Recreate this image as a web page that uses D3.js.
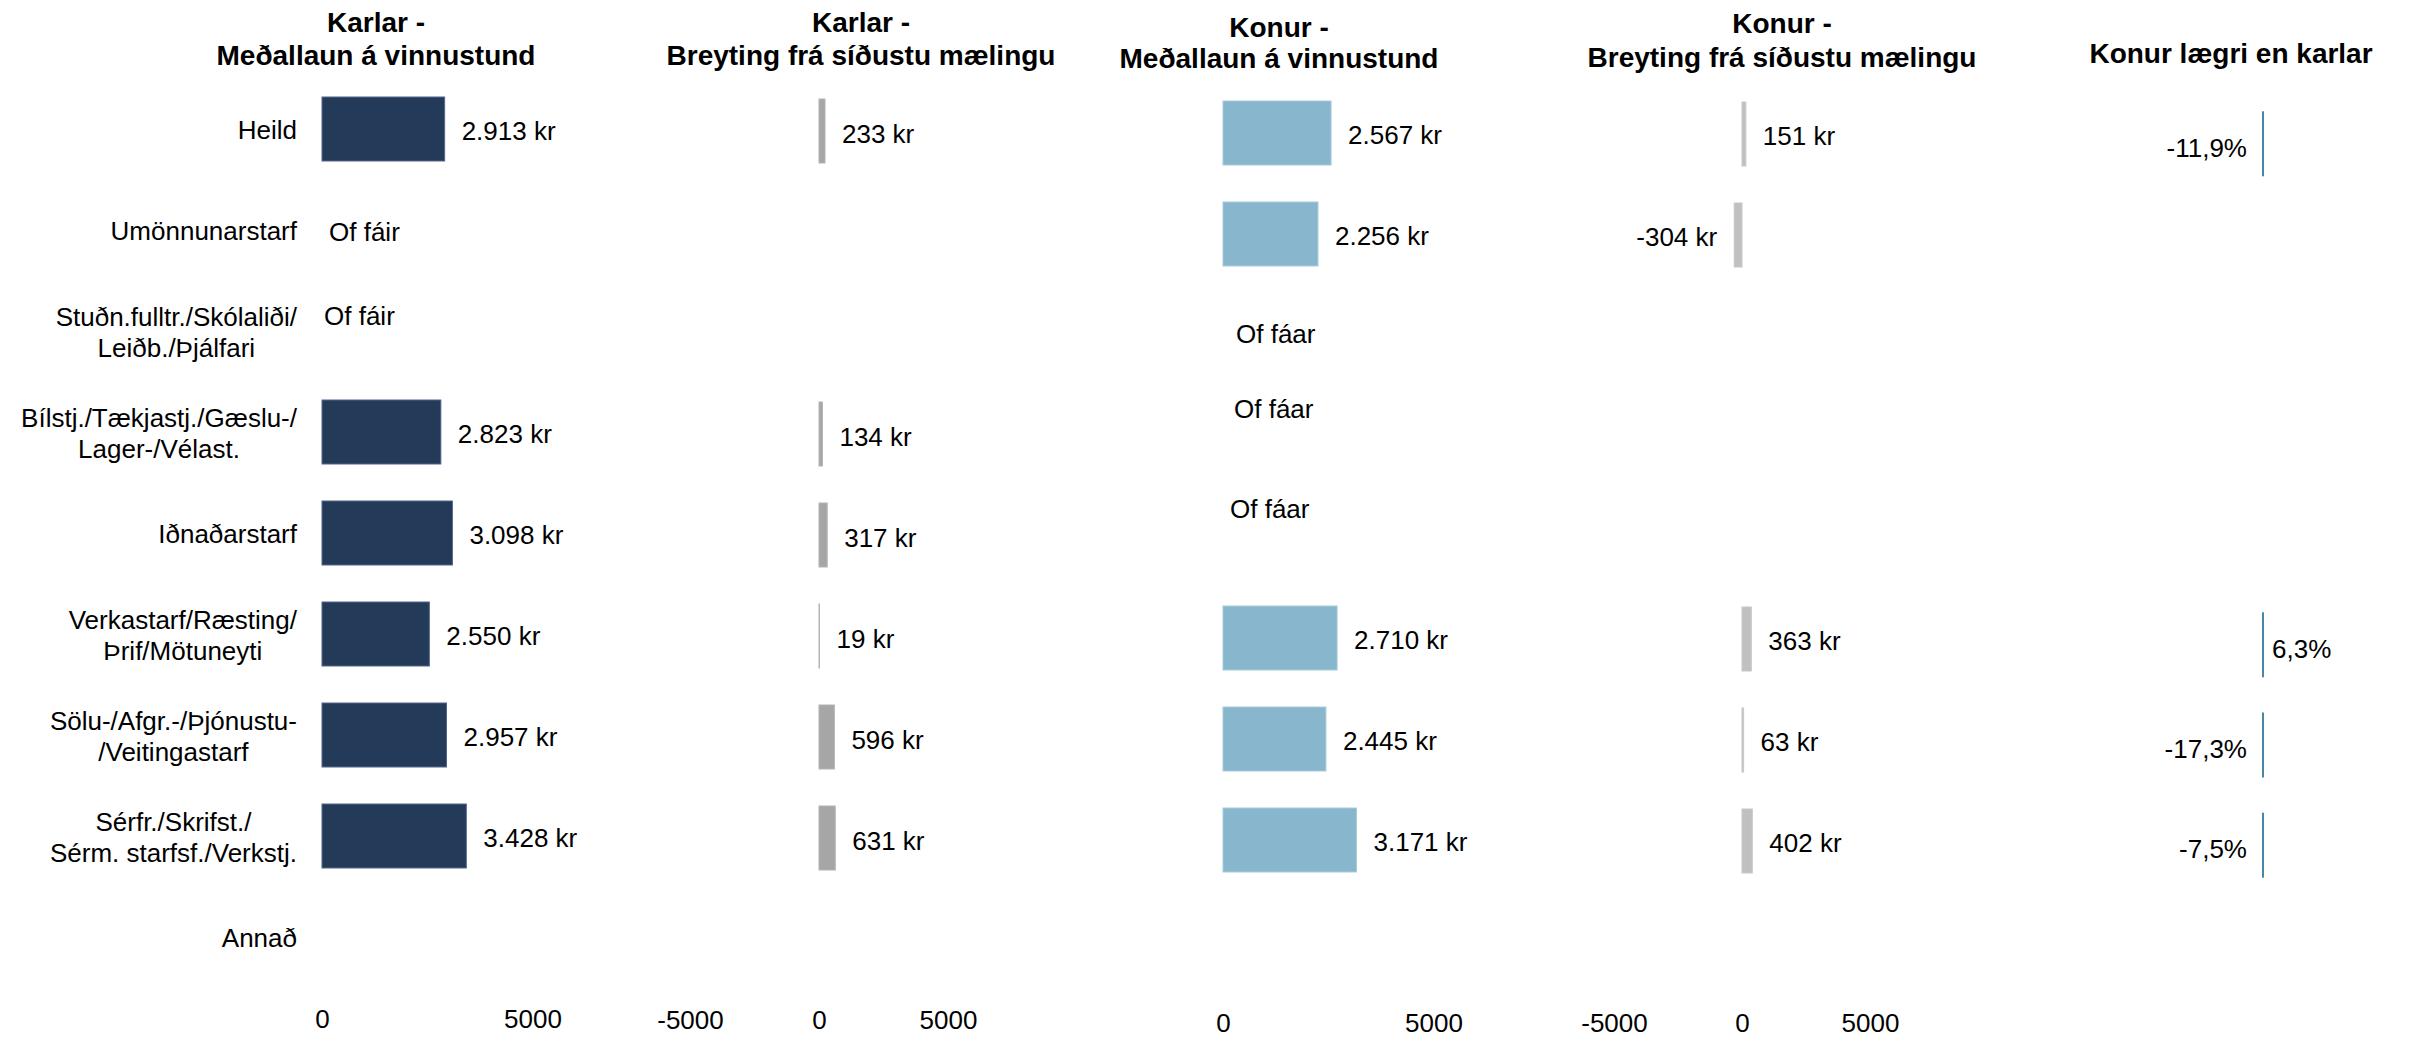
<!DOCTYPE html>
<html><head><meta charset="utf-8">
<script src="https://cdn.jsdelivr.net/npm/d3@7"></script>
<style>
body{margin:0;background:#fff}
text{font-family:"Liberation Sans",Arial,sans-serif;fill:#000}
</style>
</head><body>
<svg id="chart" width="2410" height="1038"></svg>
<script>
// ---------------- DATA ----------------
const categories = ["Heild","Umönnunarstarf","Stuðn.fulltr./Skólaliði/Leiðb./Þjálfari","Bílstj./Tækjastj./Gæslu-/Lager-/Vélast.","Iðnaðarstarf","Verkastarf/Ræsting/Þrif/Mötuneyti","Sölu-/Afgr.-/Þjónustu-/Veitingastarf","Sérfr./Skrifst./Sérm. starfsf./Verkstj.","Annað"];
const categoryLines = [["Heild"],["Umönnunarstarf"],["Stuðn.fulltr./Skólaliði/","Leiðb./Þjálfari"],["Bílstj./Tækjastj./Gæslu-/","Lager-/Vélast."],["Iðnaðarstarf"],["Verkastarf/Ræsting/","Þrif/Mötuneyti"],["Sölu-/Afgr.-/Þjónustu-","/Veitingastarf"],["Sérfr./Skrifst./","Sérm. starfsf./Verkstj."],["Annað"]];
const karlarLaun     = [2913, null, null, 2823, 3098, 2550, 2957, 3428, null];
const karlarBreyting = [233, null, null, 134, 317, 19, 596, 631, null];
const konurLaun      = [2567, 2256, null, null, null, 2710, 2445, 3171, null];
const konurBreyting  = [151, -304, null, null, null, 363, 63, 402, null];
const konurLaegri    = [-0.119, null, null, null, null, 0.063, -0.173, -0.075, null];
const titles = [["Karlar -","Meðallaun á vinnustund"],["Karlar -","Breyting frá síðustu mælingu"],["Konur -","Meðallaun á vinnustund"],["Konur -","Breyting frá síðustu mælingu"],["Konur lægri en karlar"]];
const ticksLaun = [0, 5000];
const ticksBreyting = [-5000, 0, 5000];
const karlarNotes = [{cat:"Umönnunarstarf", text:"Of fáir"},{cat:"Stuðn.fulltr./Skólaliði/Leiðb./Þjálfari", text:"Of fáir"}];
const konurNotes  = [{cat:"Stuðn.fulltr./Skólaliði/Leiðb./Þjálfari", text:"Of fáar"},{cat:"Bílstj./Tækjastj./Gæslu-/Lager-/Vélast.", text:"Of fáar"},{cat:"Iðnaðarstarf", text:"Of fáar"}];

// ---------------- FORMAT ----------------
const loc = d3.formatLocale({decimal:",", thousands:".", grouping:[3], currency:["",""], minus:"-"});
const fmtKr = v => loc.format(",.0f")(v) + " kr";
const fmtPct = v => loc.format(".1%")(v);
const fmtTick = loc.format("d");

// ---------------- LAYOUT ----------------
const svg = d3.select("#chart");
const FS = 26;

const panels = [
  {values:karlarLaun, domain:[0,5000], range:[322,532.5], bandStart:78.5, step:101, bh:64, fill:"#243A59", stroke:"#52668A", sw:1, fmt:fmtKr, gapPos:17, gapNeg:17, ticks:ticksLaun, axisY:1010, title:titles[0], titleX:376, titleY:[32,65], labelDy:2},
  {values:karlarBreyting, domain:[-5000,5000], range:[690,948], bandStart:80.5, step:101, bh:64, fill:"#A6A6A6", stroke:"#B4B4B4", sw:1, fmt:fmtKr, gapPos:17, gapNeg:17, ticks:ticksBreyting, axisY:1011, title:titles[1], titleX:861, titleY:[32,65], labelDy:3},
  {values:konurLaun, domain:[0,5000], range:[1223,1433.5], bandStart:82.5, step:101, bh:64, fill:"#88B6CC", stroke:"#A8CCDD", sw:1, fmt:fmtKr, gapPos:17, gapNeg:17, ticks:ticksLaun, axisY:1014, title:titles[2], titleX:1279, titleY:[37,68], labelDy:2},
  {values:konurBreyting, domain:[-5000,5000], range:[1614,1870], bandStart:83.5, step:101, bh:64, fill:"#C0C0C0", stroke:"#C8C8C8", sw:1, fmt:fmtKr, gapPos:17, gapNeg:17, ticks:ticksBreyting, axisY:1014, title:titles[3], titleX:1782, titleY:[33,67], labelDy:2},
  {values:konurLaegri, domain:[-5000,5000], range:[2135,2391], bandStart:93.7, step:100.2, bh:63, fill:"#4A86A6", stroke:"#4A86A6", sw:2, fmt:fmtPct, gapPos:9, gapNeg:16, ticks:null, axisY:0, title:titles[4], titleX:2231, titleY:[63], labelDy:4}
];

panels.forEach(p => {
  p.x = d3.scaleLinear().domain(p.domain).range(p.range);
  p.y = d3.scaleBand().domain(categories)
          .range([p.bandStart, p.bandStart + p.step*categories.length])
          .paddingInner(1 - p.bh/p.step).paddingOuter((1 - p.bh/p.step)/2);
  const g = svg.append("g");

  // title
  p.title.forEach((t,i) => {
    g.append("text").attr("x", p.titleX).attr("y", p.titleY[i])
      .attr("text-anchor","middle").attr("font-size",28).attr("font-weight","bold").text(t);
  });

  const rows = categories.map((c,i)=>({cat:c, v:p.values[i]})).filter(d => d.v !== null);

  // bars
  g.selectAll("rect.bar").data(rows).join("rect").attr("class","bar")
    .attr("x", d => Math.min(p.x(0), p.x(d.v)))
    .attr("width", d => Math.abs(p.x(d.v) - p.x(0)))
    .attr("y", d => p.y(d.cat))
    .attr("height", p.y.bandwidth())
    .attr("fill", p.fill).attr("stroke", p.stroke).attr("stroke-width", p.sw);

  // value labels
  g.selectAll("text.val").data(rows).join("text").attr("class","val")
    .attr("x", d => d.v >= 0 ? p.x(d.v) + p.gapPos : p.x(d.v) - p.gapNeg)
    .attr("y", d => p.y(d.cat) + p.y.bandwidth()/2 + p.labelDy)
    .attr("dy","0.35em")
    .attr("text-anchor", d => d.v >= 0 ? "start" : "end")
    .attr("font-size", FS)
    .text(d => p.fmt(d.v));

  // axis
  if (p.ticks) {
    const ax = g.append("g").attr("transform", `translate(0,${p.axisY})`)
      .call(d3.axisBottom(p.x).tickValues(p.ticks).tickSize(0).tickPadding(0).tickFormat(fmtTick));
    ax.select(".domain").remove();
    ax.selectAll("text").attr("font-size", FS).attr("font-family", '"Liberation Sans",Arial,sans-serif').attr("fill","#000");
  }
});

// category labels (use first panel's band scale)
const yCat = panels[0].y;
const catG = svg.append("g");
const LABEL_RIGHT = 297, LINE_H = 31;
categories.forEach((c,i) => {
  const lines = categoryLines[i];
  const cy = yCat(c) + yCat.bandwidth()/2 + 1;
  const texts = lines.map((ln,j) => catG.append("text")
      .attr("y", cy + (j - (lines.length-1)/2)*LINE_H)
      .attr("dy","0.35em").attr("font-size",FS).text(ln));
  if (lines.length === 1) {
    texts[0].attr("x", LABEL_RIGHT).attr("text-anchor","end");
  } else {
    const w = d3.max(texts, t => t.node().getComputedTextLength());
    texts.forEach(t => t.attr("x", LABEL_RIGHT - w/2).attr("text-anchor","middle"));
  }
});

// "too few" notes
const noteNudgeKarlar = [{dx:7, dy:2},{dx:2, dy:-15}];
const noteNudgeKonur  = [{dx:13, dy:-1},{dx:11, dy:-27},{dx:7, dy:-28}];
karlarNotes.forEach((n,i) => {
  const p = panels[0];
  svg.append("text").attr("x", p.x(0) + noteNudgeKarlar[i].dx)
    .attr("y", p.y(n.cat) + p.y.bandwidth()/2 + noteNudgeKarlar[i].dy)
    .attr("dy","0.35em").attr("font-size",FS).text(n.text);
});
konurNotes.forEach((n,i) => {
  const p = panels[2];
  svg.append("text").attr("x", p.x(0) + noteNudgeKonur[i].dx)
    .attr("y", p.y(n.cat) + p.y.bandwidth()/2 + noteNudgeKonur[i].dy)
    .attr("dy","0.35em").attr("font-size",FS).text(n.text);
});
</script>
</body></html>
